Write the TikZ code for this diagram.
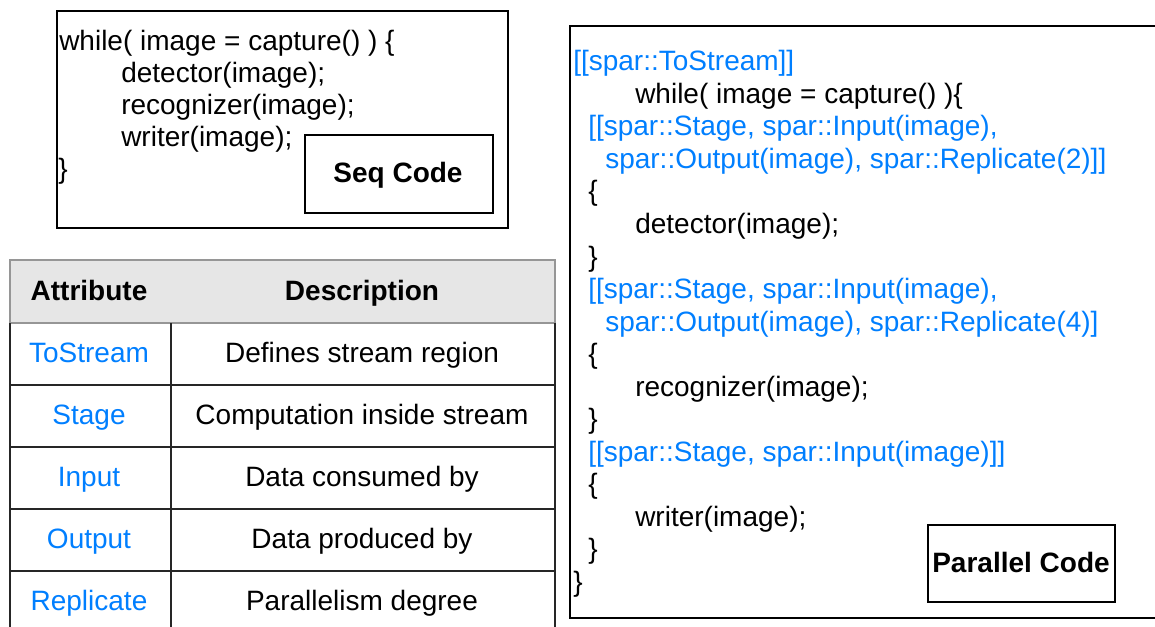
\documentclass[tikz,border=0pt]{standalone}
\usepackage{fontspec}
\setmainfont{Liberation Sans}
\usetikzlibrary{fit}
\definecolor{sparblue}{RGB}{0,127,255}
\definecolor{hdrgray}{RGB}{230,230,230}
\definecolor{hdrline}{RGB}{150,150,150}
\tikzset{
  txt/.style={inner sep=0pt, font=\fontsize{21}{25}\selectfont},
  code/.style={txt, anchor=base west},
  ann/.style={code, text=sparblue},
  cell/.style={txt, anchor=base},
  attr/.style={cell, text=sparblue},
  hdr/.style={cell, font=\fontsize{21}{25}\selectfont\bfseries},
  box/.style={draw=black, line width=1pt, inner sep=0pt},
  label/.style={hdr, anchor=base},
  grid/.style={draw=black!85, line width=1.1pt},
}
\begin{document}
\begin{tikzpicture}[x=0.75pt,y=-0.75pt]
\clip (0,0) rectangle (1155,627);
\fill[white] (0,0) rectangle (1155,627);

% ---------- sequential code ----------
\node[box, fit={(57,11) (508,228)}] (seqbox) {};
\node[code] (s1) at (59,51) {while( image = capture() ) \{};
\node[code] (s2) at (121,83) {detector(image);};
\node[code] (s3) at (121,115) {recognizer(image);};
\node[code] (s4) at (121,147) {writer(image);};
\node[code] (s5) at (58,179) {\}};
\node[box, fit={(305,135) (493,213)}] (seqlab) {};
\node[label] (seqtxt) at (398,182.5) {Seq Code};

% ---------- table ----------
\path[fill=hdrgray, draw=hdrline, line width=1pt] (10,260) rectangle (555,323);
\node[hdr] (h1) at (89,300) {Attribute};
\node[hdr] (h2) at (362,300) {Description};
\draw[grid] (10,323) -- (10,640);
\draw[grid] (171,323) -- (171,640);
\draw[grid] (555,323) -- (555,640);
\draw[grid] (10,385) -- (555,385);
\draw[grid] (10,447) -- (555,447);
\draw[grid] (10,509) -- (555,509);
\draw[grid] (10,571) -- (555,571);
\draw[grid] (10,633) -- (555,633);

\node[attr] (a1) at (89,362) {ToStream};
\node[attr] (a2) at (89,424) {Stage};
\node[attr] (a3) at (89,486) {Input};
\node[attr] (a4) at (89,548) {Output};
\node[attr] (a5) at (89,610) {Replicate};
\node[cell] (d1) at (362,362) {Defines stream region};
\node[cell] (d2) at (362,424) {Computation inside stream};
\node[cell] (d3) at (362,486) {Data consumed by};
\node[cell] (d4) at (362,548) {Data produced by};
\node[cell] (d5) at (362,610) {Parallelism degree};

% ---------- parallel code ----------
\node[box, fit={(570,26) (1165,618)}] (parbox) {};
\node[ann]  (p1)  at (573,71)    {[[spar::ToStream]]};
\node[code] (p2)  at (635,103.5) {while( image = capture() )\{};
\node[ann]  (p3)  at (588,136)   {[[spar::Stage, spar::Input(image),};
\node[ann]  (p4)  at (605,168.5) {spar::Output(image), spar::Replicate(2)]]};
\node[code] (p5)  at (588,201)   {\{};
\node[code] (p6)  at (635,233.5) {detector(image);};
\node[code] (p7)  at (588,266)   {\}};
\node[ann]  (p8)  at (588,298.5) {[[spar::Stage, spar::Input(image),};
\node[ann]  (p9)  at (605,331)   {spar::Output(image), spar::Replicate(4)]};
\node[code] (p10) at (588,363.5) {\{};
\node[code] (p11) at (635,396)   {recognizer(image);};
\node[code] (p12) at (588,428.5) {\}};
\node[ann]  (p13) at (588,461)   {[[spar::Stage, spar::Input(image)]]};
\node[code] (p14) at (588,493.5) {\{};
\node[code] (p15) at (635,526)   {writer(image);};
\node[code] (p16) at (588,558.5) {\}};
\node[code] (p17) at (573,591)   {\}};
\node[box, fit={(928,525) (1115,602)}] (parlab) {};
\node[label] (partxt) at (1021,572) {Parallel Code};
\end{tikzpicture}
\end{document}
